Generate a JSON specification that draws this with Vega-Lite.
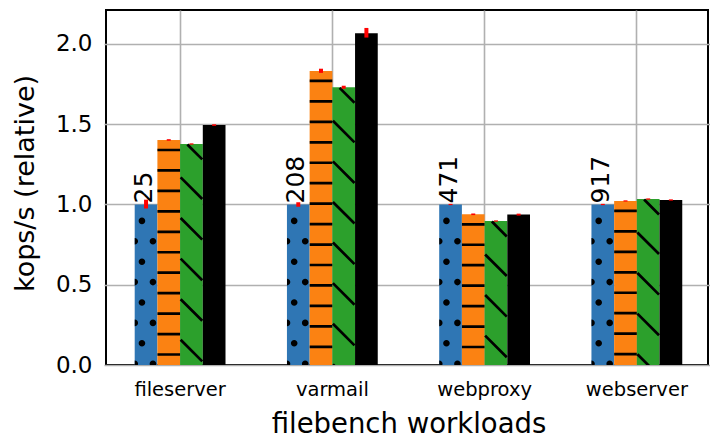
{
  "$schema": "https://vega.github.io/schema/vega-lite/v6.json",
  "width": 602,
  "height": 355,
  "autosize": {"type": "none"},
  "padding": {"left": 106, "top": 10, "right": 2, "bottom": 73},
  "background": "white",
  "config": {
    "font": "DejaVu Sans",
    "view": {"stroke": "black", "strokeWidth": 2},
    "axis": {"domain": false, "ticks": false, "tickSize": 0, "gridColor": "#b0b0b0", "gridWidth": 1.6, "gridOpacity": 1, "labelColor": "black", "titleColor": "black", "titleFontWeight": "normal", "labelFont": "DejaVu Sans", "titleFont": "DejaVu Sans"}
  },
  "data": {
    "values": [
      {"workload": "fileserver", "series": "s1", "value": 1.0, "lo": 0.975, "hi": 1.03, "label": "25"},
      {"workload": "fileserver", "series": "s2", "value": 1.402, "lo": 1.397, "hi": 1.407},
      {"workload": "fileserver", "series": "s3", "value": 1.377, "lo": 1.373, "hi": 1.381},
      {"workload": "fileserver", "series": "s4", "value": 1.495, "lo": 1.49, "hi": 1.5},
      {"workload": "varmail", "series": "s1", "value": 1.0, "lo": 0.986, "hi": 1.014, "label": "208"},
      {"workload": "varmail", "series": "s2", "value": 1.832, "lo": 1.82, "hi": 1.846},
      {"workload": "varmail", "series": "s3", "value": 1.73, "lo": 1.721, "hi": 1.74},
      {"workload": "varmail", "series": "s4", "value": 2.067, "lo": 2.04, "hi": 2.1},
      {"workload": "webproxy", "series": "s1", "value": 1.0, "lo": 0.996, "hi": 1.004, "label": "471"},
      {"workload": "webproxy", "series": "s2", "value": 0.939, "lo": 0.934, "hi": 0.944},
      {"workload": "webproxy", "series": "s3", "value": 0.897, "lo": 0.893, "hi": 0.901},
      {"workload": "webproxy", "series": "s4", "value": 0.937, "lo": 0.931, "hi": 0.943},
      {"workload": "webserver", "series": "s1", "value": 1.0, "lo": 0.996, "hi": 1.004, "label": "917"},
      {"workload": "webserver", "series": "s2", "value": 1.022, "lo": 1.018, "hi": 1.026},
      {"workload": "webserver", "series": "s3", "value": 1.034, "lo": 1.03, "hi": 1.038},
      {"workload": "webserver", "series": "s4", "value": 1.028, "lo": 1.024, "hi": 1.032}
    ]
  },
  "encoding": {
    "x": {
      "field": "workload", "type": "nominal", "sort": null,
      "scale": {"type": "band", "range": [-2, 607], "paddingInner": 0, "paddingOuter": 0},
      "axis": {"title": "filebench workloads", "labelAngle": 0, "labelFontSize": 19.5, "labelBaseline": "alphabetic", "labelPadding": 30, "titleFontSize": 27.5, "titleBaseline": "alphabetic", "titleY": 67, "grid": true}
    },
    "xOffset": {"field": "series", "type": "nominal", "sort": null, "scale": {"range": [30.7, 121.5], "paddingInner": 0, "paddingOuter": 0}}
  },
  "layer": [
    {
      "mark": {"type": "bar"},
      "encoding": {
        "y": {
          "field": "value", "type": "quantitative",
          "scale": {"domain": [0, 2.2118], "nice": false, "zero": true},
          "axis": {"title": "kops/s (relative)", "values": [0, 0.5, 1, 1.5, 2], "format": ".1f", "labelFontSize": 23, "labelPadding": 14, "titleFontSize": 27, "titleBaseline": "alphabetic", "titleAngle": 270, "titleAlign": "center", "titleX": -73, "titleY": 173, "grid": true}
        },
        "color": {"field": "series", "type": "nominal", "legend": null, "scale": {"domain": ["s1", "s2", "s3", "s4"], "range": ["#2f76b4", "#fb8212", "#2ca02c", "#000000"]}}
      }
    },
    {
      "transform": [{"filter": "datum.series === 's1'"}],
      "mark": {"type": "point", "filled": true, "color": "black", "opacity": 1, "size": 4, "clip": true,
        "shape": "M-7.4 16.4a3.3 3.3 0 1 0 6.6 0a3.3 3.3 0 1 0 -6.6 0ZM-7.4 57.2a3.3 3.3 0 1 0 6.6 0a3.3 3.3 0 1 0 -6.6 0ZM-7.4 98a3.3 3.3 0 1 0 6.6 0a3.3 3.3 0 1 0 -6.6 0ZM-7.4 138.8a3.3 3.3 0 1 0 6.6 0a3.3 3.3 0 1 0 -6.6 0ZM-7.4 179.6a3.3 3.3 0 1 0 6.6 0a3.3 3.3 0 1 0 -6.6 0ZM-7.4 220.4a3.3 3.3 0 1 0 6.6 0a3.3 3.3 0 1 0 -6.6 0ZM-7.4 261.2a3.3 3.3 0 1 0 6.6 0a3.3 3.3 0 1 0 -6.6 0ZM-7.4 302a3.3 3.3 0 1 0 6.6 0a3.3 3.3 0 1 0 -6.6 0ZM-7.4 342.8a3.3 3.3 0 1 0 6.6 0a3.3 3.3 0 1 0 -6.6 0ZM3.6 36.8a3.3 3.3 0 1 0 6.6 0a3.3 3.3 0 1 0 -6.6 0ZM3.6 77.6a3.3 3.3 0 1 0 6.6 0a3.3 3.3 0 1 0 -6.6 0ZM3.6 118.4a3.3 3.3 0 1 0 6.6 0a3.3 3.3 0 1 0 -6.6 0ZM3.6 159.2a3.3 3.3 0 1 0 6.6 0a3.3 3.3 0 1 0 -6.6 0ZM3.6 200a3.3 3.3 0 1 0 6.6 0a3.3 3.3 0 1 0 -6.6 0ZM3.6 240.8a3.3 3.3 0 1 0 6.6 0a3.3 3.3 0 1 0 -6.6 0ZM3.6 281.6a3.3 3.3 0 1 0 6.6 0a3.3 3.3 0 1 0 -6.6 0ZM3.6 322.4a3.3 3.3 0 1 0 6.6 0a3.3 3.3 0 1 0 -6.6 0ZM3.6 363.2a3.3 3.3 0 1 0 6.6 0a3.3 3.3 0 1 0 -6.6 0ZM-11.3 33.5a3.3 3.3 0 0 1 0 6.6ZM-11.3 74.3a3.3 3.3 0 0 1 0 6.6ZM-11.3 115.1a3.3 3.3 0 0 1 0 6.6ZM-11.3 155.9a3.3 3.3 0 0 1 0 6.6ZM-11.3 196.7a3.3 3.3 0 0 1 0 6.6ZM-11.3 237.5a3.3 3.3 0 0 1 0 6.6ZM-11.3 278.3a3.3 3.3 0 0 1 0 6.6ZM-11.3 319.1a3.3 3.3 0 0 1 0 6.6ZM-11.3 359.9a3.3 3.3 0 0 1 0 6.6Z"},
      "encoding": {"y": {"field": "value", "type": "quantitative"}}
    },
    {
      "transform": [{"filter": "datum.series === 's2'"}],
      "mark": {"type": "point", "filled": false, "color": "black", "opacity": 1, "size": 4, "strokeWidth": 2.7, "clip": true,
        "shape": "M-11.3 10H11.3M-11.3 30.45H11.3M-11.3 50.9H11.3M-11.3 71.35H11.3M-11.3 91.8H11.3M-11.3 112.25H11.3M-11.3 132.7H11.3M-11.3 153.15H11.3M-11.3 173.6H11.3M-11.3 194.05H11.3M-11.3 214.5H11.3M-11.3 234.95H11.3M-11.3 255.4H11.3M-11.3 275.85H11.3M-11.3 296.3H11.3M-11.3 316.75H11.3M-11.3 337.2H11.3M-11.3 357.65H11.3"},
      "encoding": {"y": {"field": "value", "type": "quantitative"}}
    },
    {
      "transform": [{"filter": "datum.series === 's3'"}],
      "mark": {"type": "point", "filled": false, "color": "black", "opacity": 1, "size": 4, "strokeWidth": 2.7, "clip": true,
        "shape": "M-4.1 0.5L10.8 15.4M-10.8 33.4L10.8 55M-10.8 74L10.8 95.6M-10.8 114.6L10.8 136.2M-10.8 155.2L10.8 176.8M-10.8 195.8L10.8 217.4M-10.8 236.4L10.8 258M-10.8 277L10.8 298.6M-10.8 317.6L10.8 339.2M-10.8 358.2L10.8 379.8"},
      "encoding": {"y": {"field": "value", "type": "quantitative"}}
    },
    {
      "mark": {"type": "rule", "color": "#ff0000", "strokeWidth": 4},
      "encoding": {
        "y": {"field": "lo", "type": "quantitative", "title": "kops/s (relative)"},
        "y2": {"field": "hi"}
      }
    },
    {
      "transform": [{"filter": "isValid(datum.label)"}],
      "mark": {"type": "text", "angle": 270, "align": "left", "baseline": "middle", "fontSize": 25, "color": "black", "dx": 1, "dy": -2},
      "encoding": {
        "y": {"field": "value", "type": "quantitative"},
        "text": {"field": "label"}
      }
    }
  ]
}
